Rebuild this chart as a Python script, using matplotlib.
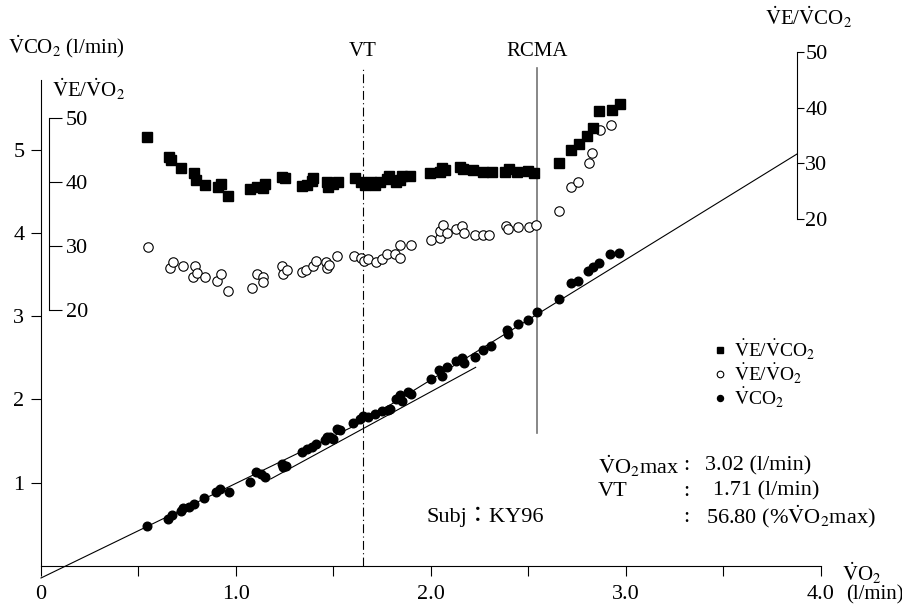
import matplotlib
matplotlib.use("Agg")
import matplotlib.pyplot as plt
import numpy as np

plt.rcParams['font.family'] = ['Liberation Serif', 'Noto Sans CJK JP']
plt.rcParams['mathtext.fontset'] = 'stix'

# VCO2 vs VO2 (l/min)
vo2 = [0.542, 0.653, 0.670, 0.72, 0.73, 0.76, 0.785, 0.836, 0.897, 0.92, 0.964,
       1.072, 1.10, 1.127, 1.149, 1.234, 1.243, 1.256, 1.337, 1.363, 1.388, 1.41,
       1.456, 1.465, 1.482, 1.50, 1.516, 1.533, 1.598, 1.636, 1.653, 1.678, 1.713,
       1.747, 1.781, 1.79, 1.82, 1.841, 1.85, 1.884, 1.90, 2.0, 2.04, 2.055, 2.08,
       2.13, 2.16, 2.17, 2.226, 2.268, 2.306, 2.388, 2.396, 2.448, 2.50, 2.545,
       2.656, 2.718, 2.752, 2.807, 2.833, 2.863, 2.92, 2.964]
vco2 = [0.48, 0.56, 0.61, 0.66, 0.70, 0.71, 0.75, 0.82, 0.885, 0.92, 0.885,
        1.005, 1.13, 1.11, 1.065, 1.23, 1.19, 1.20, 1.365, 1.41, 1.43, 1.46,
        1.51, 1.545, 1.55, 1.53, 1.65, 1.63, 1.72, 1.77, 1.80, 1.785, 1.83,
        1.865, 1.87, 1.89, 2.0, 2.05, 1.98, 2.09, 2.06, 2.245, 2.35, 2.28, 2.39,
        2.46, 2.50, 2.44, 2.51, 2.59, 2.64, 2.83, 2.785, 2.91, 2.95, 3.05,
        3.205, 3.40, 3.42, 3.545, 3.59, 3.64, 3.74, 3.755]

# VE/VCO2
vo2_sq = [0.545, 0.658, 0.665, 0.72, 0.786, 0.793, 0.841, 0.909, 0.921, 0.957,
          1.072, 1.106, 1.14, 1.149, 1.234, 1.251, 1.337, 1.363, 1.388, 1.396,
          1.465, 1.473, 1.499, 1.525, 1.61, 1.64, 1.662, 1.69, 1.713, 1.738, 1.773,
          1.786, 1.82, 1.841, 1.85, 1.892, 1.995, 2.046, 2.055, 2.072, 2.149, 2.166,
          2.217, 2.268, 2.311, 2.379, 2.402, 2.44, 2.50, 2.526, 2.658, 2.716, 2.759,
          2.80, 2.83, 2.86, 2.93, 2.97]
ve_vco2 = [34.8, 31.2, 30.6, 29.1, 28.2, 27.0, 26.1, 25.8, 26.3, 24.1,
           25.3, 25.8, 25.5, 26.3, 27.6, 27.3, 25.9, 26.1, 26.9, 27.3,
           26.7, 25.8, 26.3, 26.7, 27.3, 26.7, 26.1, 26.7, 26.1, 26.7, 27.1,
           27.7, 26.7, 27.0, 27.7, 27.7, 28.3, 28.5, 29.1, 28.8, 29.3, 28.9,
           28.8, 28.5, 28.5, 28.5, 28.9, 28.5, 28.6, 28.2, 30.0, 32.4, 33.5,
           35.0, 36.3, 39.4, 39.5, 40.7]

# VE/VO2
vo2_ci = [0.55, 0.662, 0.675, 0.727, 0.778, 0.79, 0.798, 0.841, 0.904, 0.921,
          0.961, 1.08, 1.106, 1.137, 1.14, 1.234, 1.24, 1.26, 1.34, 1.359, 1.396,
          1.41, 1.462, 1.465, 1.478, 1.52, 1.605, 1.64, 1.656, 1.678, 1.718, 1.747,
          1.776, 1.815, 1.841, 1.841, 1.896, 2.0, 2.046, 2.046, 2.063, 2.08, 2.13,
          2.16, 2.17, 2.226, 2.265, 2.30, 2.385, 2.397, 2.445, 2.504, 2.538, 2.658,
          2.716, 2.755, 2.81, 2.827, 2.867, 2.923]
ve_vo2 = [29.8, 26.5, 27.5, 26.8, 25.1, 26.8, 25.8, 25.1, 24.6, 25.7,
          22.9, 23.4, 25.6, 25.1, 24.4, 26.9, 25.7, 26.3, 26.0, 26.3, 26.8,
          27.7, 27.5, 26.5, 27.0, 28.4, 28.4, 28.1, 27.7, 27.9, 27.5, 27.9,
          28.75, 28.75, 30.2, 28.2, 30.2, 30.9, 31.2, 32.3, 33.3, 32.0, 32.6,
          33.1, 32.0, 31.7, 31.7, 31.7, 33.1, 32.6, 32.9, 33.0, 33.3, 35.4,
          39.2, 40.0, 43.0, 44.6, 48.2, 48.9]

# regression lines (x pairs, y pairs)
line1_x, line1_y = [0.0, 1.651], [-0.144, 1.732]
line2_x, line2_y = [1.178, 2.229], [1.045, 2.385]
line3_x, line3_y = [1.651, 3.877], [1.732, 4.946]

vt_x = 1.651
rcma_x = 2.546

W, H = 903, 608
X0, XS = 41, 195.0      # pixel of VO2=0, pixels per l/min
Y0, YS = 566, 83.3      # pixel of VCO2=0, pixels per l/min
ylo, yhi = -0.2, 6.4
bot_px = Y0 - ylo * YS
top_px = Y0 - yhi * YS

fig = plt.figure(figsize=(W / 100, H / 100), dpi=100)
ax = fig.add_axes([X0 / W, (H - bot_px) / H, 4.0 * XS / W, (bot_px - top_px) / H])
ax.set_xlim(0, 4.0)
ax.set_ylim(ylo, yhi)
for s in ['top', 'right']:
    ax.spines[s].set_visible(False)
ax.spines['bottom'].set_position(('data', 0))
ax.spines['bottom'].set_bounds(0, 4.0)
ax.spines['left'].set_bounds(0, 5.83)
ax.set_xticks(np.arange(0, 4.01, 0.5))
ax.set_xticklabels(['0', '', '1.0', '', '2.0', '', '3.0', '', '4.0'])
ax.set_yticks([1, 2, 3, 4, 5])
ax.set_yticklabels(['1', '2', '3', '4', '5'])
ax.tick_params(direction='out', length=7, width=0.8, labelsize=16)
ax.tick_params(axis='x', pad=7)
ax.tick_params(axis='y', pad=5)
for s in ax.spines.values():
    s.set_linewidth(0.8)


def twin(v_lo_px, v_hi_px, xpos, tick_len, pad):
    # twin y axis: value 20 at v_lo_px, 50 at v_hi_px
    a = ax.twinx()
    ppu = (v_lo_px - v_hi_px) / 30.0
    a.set_ylim(20 - (bot_px - v_lo_px) / ppu, 20 + (v_lo_px - top_px) / ppu)
    for s in ['top', 'left', 'bottom']:
        a.spines[s].set_visible(False)
    a.spines['right'].set_position(('data', xpos))
    a.spines['right'].set_bounds(20, 50)
    a.spines['right'].set_linewidth(0.8)
    a.set_yticks([20, 30, 40, 50])
    a.tick_params(direction='out', length=tick_len, width=0.8, labelsize=16, pad=pad)
    return a


ax_vo2 = twin(310, 118, 0.041, 9, 3)
ax_vco2 = twin(219, 52, 3.877, 5, 1)

k = dict(color='black', lw=0.8)
ax.plot(line1_x, line1_y, clip_on=False, **k)
ax.plot(line2_x, line2_y, **k)
ax.plot(line3_x, line3_y, **k)
ax.plot([vt_x, vt_x], [0, 5.98], color='black', lw=0.8, ls=(0, (8, 3, 1, 3)))
ax.plot([rcma_x, rcma_x], [1.60, 5.98], color='0.45', lw=1.2)

h_dot, = ax.plot(vo2, vco2, 'o', color='black', ms=6.2, zorder=5)
h_ci, = ax_vo2.plot(vo2_ci, ve_vo2, 'o', mfc='white', mec='black', ms=6.8, mew=0.8)
h_sq, = ax_vco2.plot(vo2_sq, ve_vco2, 's', color='black', ms=6.8)

V = r'$\dot{\mathrm{V}}$'
fig.legend([h_sq, h_ci, h_dot],
           [V + 'E/' + V + 'CO$_2$', V + 'E/' + V + 'O$_2$', V + 'CO$_2$'],
           loc='upper left', bbox_to_anchor=(703 / W, 1 - 328 / H), frameon=False,
           fontsize=14, markerscale=0.7, handlelength=0.7, handletextpad=0.4,
           labelspacing=0.0, borderpad=0)


def ftext(px, py, s, **kw):
    kw.setdefault('fontsize', 15)
    kw.setdefault('va', 'center')
    fig.text(px / W, 1 - py / H, s, **kw)


ftext(8, 47, V + 'CO$_2$ (l/min)')
ftext(52, 90, V + 'E/' + V + 'O$_2$')
ftext(765, 18, V + 'E/' + V + 'CO$_2$')
ftext(363, 52, 'VT', ha='center')
ftext(537, 52, 'RCMA', ha='center')
ftext(862, 574, V + 'O$_2$', ha='center')
ftext(846, 595, '(l/min)')

ftext(598, 466, V + 'O$_2$max', fontsize=16)
ftext(598, 491, 'VT', fontsize=16)
for py in [466, 491, 517]:
    ftext(683, py, ':', fontsize=16)
ftext(705, 466, '3.02 (l/min)', fontsize=16)
ftext(713, 491, '1.71 (l/min)', fontsize=16)
ftext(706, 517, '56.80 (%' + V + 'O$_2$max)', fontsize=16)
ftext(427, 517, 'Subj：KY96', fontsize=16)

fig.savefig('out.png', dpi=100)
